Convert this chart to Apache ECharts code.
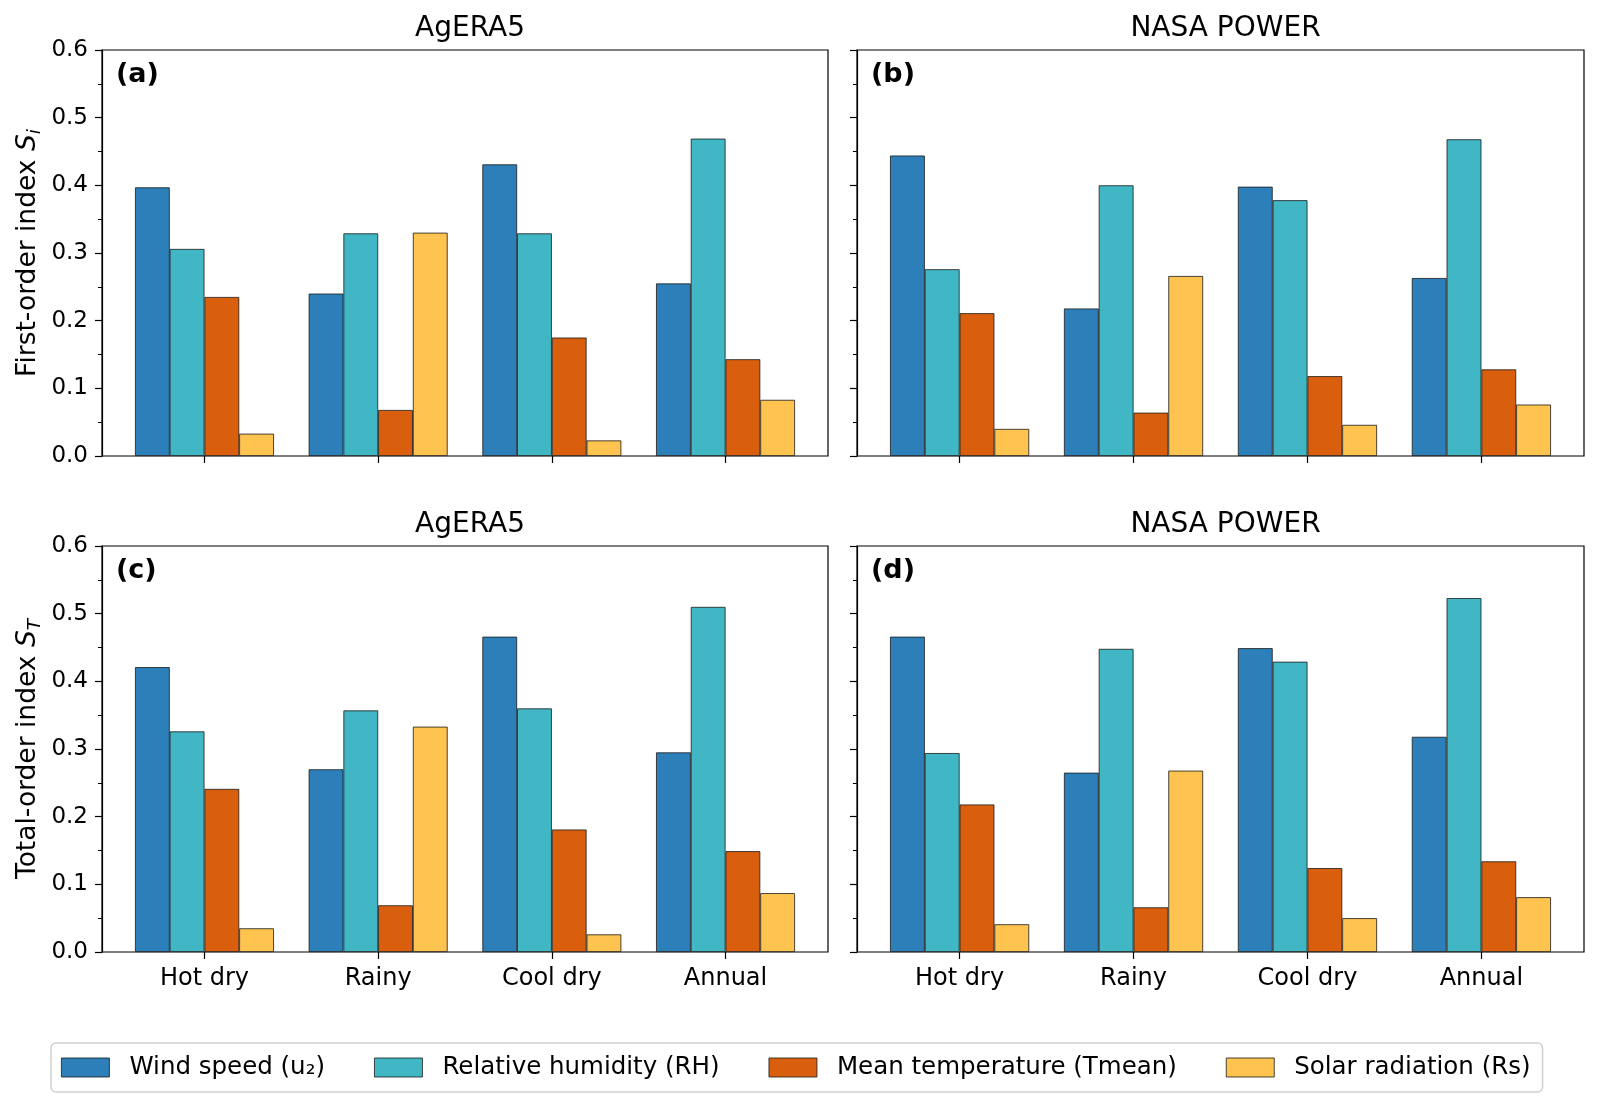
<!DOCTYPE html>
<html>
<head>
<meta charset="utf-8">
<script src="https://cdn.jsdelivr.net/npm/echarts@6/dist/echarts.min.js"></script>
<style>
  html, body { margin: 0; padding: 0; background: #fff; }
  #chart { width: 1598px; height: 1104px; }
</style>
</head>
<body>
<div id="chart"></div>
<script>
// categories and legend names
var categories = ['Hot dry', 'Rainy', 'Cool dry', 'Annual'];
var varNames = ['Wind speed (u\u2082)', 'Relative humidity (RH)', 'Mean temperature (Tmean)', 'Solar radiation (Rs)'];
var colors = ['#2c7fb8', '#41b6c4', '#d95f0e', '#fec44f'];

// (a) AgERA5, first-order index
var aWind = [0.397, 0.240, 0.431, 0.255];
var aRH   = [0.306, 0.329, 0.329, 0.469];
var aTmean = [0.235, 0.068, 0.175, 0.143];
var aRs   = [0.033, 0.330, 0.023, 0.083];

// (b) NASA POWER, first-order index
var bWind = [0.444, 0.218, 0.398, 0.263];
var bRH   = [0.276, 0.400, 0.378, 0.468];
var bTmean = [0.211, 0.064, 0.118, 0.128];
var bRs   = [0.040, 0.266, 0.046, 0.076];

// (c) AgERA5, total-order index
var cWind = [0.421, 0.270, 0.466, 0.295];
var cRH   = [0.326, 0.357, 0.360, 0.510];
var cTmean = [0.241, 0.069, 0.181, 0.149];
var cRs   = [0.035, 0.333, 0.026, 0.087];

// (d) NASA POWER, total-order index
var dWind = [0.466, 0.265, 0.449, 0.318];
var dRH   = [0.294, 0.448, 0.429, 0.523];
var dTmean = [0.218, 0.066, 0.124, 0.134];
var dRs   = [0.041, 0.268, 0.050, 0.081];

var yMin = 0, yMax = 0.6, yStep = 0.1;

var font = 'DejaVu Sans';
var panels = [
  { letter: '(a)', title: 'AgERA5',     data: [aWind, aRH, aTmean, aRs], left: 102, top: 50,  width: 726, yName: 'S', sub: 'i', first: true,  bottom: false },
  { letter: '(b)', title: 'NASA POWER', data: [bWind, bRH, bTmean, bRs], left: 857, top: 50,  width: 727, yName: null,                 bottom: false },
  { letter: '(c)', title: 'AgERA5',     data: [cWind, cRH, cTmean, cRs], left: 102, top: 546, width: 726, yName: 'S', sub: 'T', first: false, bottom: true },
  { letter: '(d)', title: 'NASA POWER', data: [dWind, dRH, dTmean, dRs], left: 857, top: 546, width: 727, yName: null,                 bottom: true }
];
var panelH = 406;
// matplotlib leaves a 0.09-category margin on each side of the bars
var inset = 0.09 * 726 / 4.18;

var grid = [], xAxis = [], yAxis = [], series = [], title = [], graphic = [];

panels.forEach(function (p, k) {
  // frame grid (box + y axis)
  grid.push({ left: p.left, top: p.top, width: p.width, height: panelH,
              show: true, borderColor: '#000', borderWidth: 1.2, containLabel: false });
  xAxis.push({ type: 'value', gridIndex: k, show: false });
  var yName = null;
  if (p.yName) {
    yName = (p.first ? '{t|First-order index }' : '{t|Total-order index }') + '{s|' + p.yName + '}{i|' + p.sub + '}';
  }
  yAxis.push({
    type: 'value', gridIndex: k, min: yMin, max: yMax, interval: yStep,
    name: yName, nameLocation: 'middle', nameGap: 57,
    nameTextStyle: {
      rich: {
        t: { fontFamily: font, fontSize: 26.5, color: '#000', lineHeight: 34, verticalAlign: 'middle' },
        s: { fontFamily: font, fontSize: 26.5, fontStyle: 'italic', color: '#000', lineHeight: 34, verticalAlign: 'middle' },
        i: { fontFamily: font, fontSize: 18.5, fontStyle: 'italic', color: '#000', lineHeight: 18, verticalAlign: 'bottom' }
      }
    },
    axisLine: { show: true, lineStyle: { color: '#000', width: 1.2 } },
    axisTick: { show: true, inside: false, length: 7, lineStyle: { color: '#000', width: 1.2 } },
    minorTick: { show: true, splitNumber: 2, length: 4, lineStyle: { color: '#000', width: 1 } },
    axisLabel: { show: !!p.yName, fontFamily: font, fontSize: 23, color: '#000', margin: 14,
                 formatter: function (v) { return v.toFixed(1); } },
    splitLine: { show: false }
  });
  title.push({ text: p.title, left: p.left + p.width / 2, textAlign: 'center', top: p.top - 40,
               textStyle: { fontFamily: font, fontSize: 28, fontWeight: 'normal', color: '#000' } });
  graphic.push({ type: 'text', left: p.left + 14, top: p.top + 11,
                 style: { text: p.letter, fontFamily: font, fontSize: 27, fontWeight: 'bold', fill: '#000' } });
});

panels.forEach(function (p, k) {
  var g = 4 + k;
  grid.push({ left: p.left + inset, top: p.top, width: p.width - 2 * inset, height: panelH });
  xAxis.push({
    type: 'category', gridIndex: g, data: categories,
    axisLine: { show: false },
    axisTick: { show: true, alignWithLabel: true, inside: false, length: 7, lineStyle: { color: '#000', width: 1.2 } },
    axisLabel: { show: p.bottom, fontFamily: font, fontSize: 24, color: '#000', margin: 15 }
  });
  yAxis.push({ type: 'value', gridIndex: g, min: yMin, max: yMax, interval: yStep, show: false, splitLine: { show: false } });
  p.data.forEach(function (vals, j) {
    series.push({
      type: 'bar', name: varNames[j], xAxisIndex: g, yAxisIndex: g, data: vals,
      barGap: '0%', barCategoryGap: '20%',
      itemStyle: { color: colors[j], borderColor: '#1a1a1a', borderWidth: 0.8 },
      emphasis: { disabled: true }
    });
  });
});

var chart = echarts.init(document.getElementById('chart'));
chart.setOption({
  animation: false,
  color: colors,
  title: title,
  grid: grid,
  xAxis: xAxis,
  yAxis: yAxis,
  series: series,
  graphic: graphic,
  legend: {
    data: varNames, left: 51, top: 1043,
    icon: 'rect', itemWidth: 48, itemHeight: 19, itemGap: 49,
    itemStyle: { borderColor: '#1a1a1a', borderWidth: 0.8 },
    padding: [12, 12, 12, 10],
    borderColor: '#d0d0d0', borderWidth: 1.5, borderRadius: 5, backgroundColor: '#fff',
    textStyle: { fontFamily: font, fontSize: 24.5, color: '#000', padding: [0, 0, 0, 15] },
    selectedMode: false
  }
});
</script>
</body>
</html>
